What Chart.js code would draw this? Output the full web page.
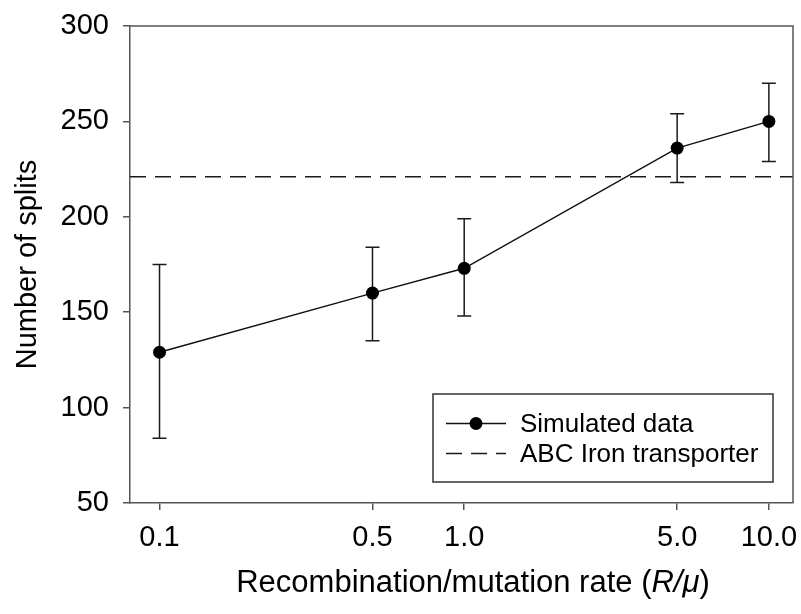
<!DOCTYPE html>
<html>
<head>
<meta charset="utf-8">
<script src="https://cdn.jsdelivr.net/npm/chart.js@4/dist/chart.umd.min.js"></script>
<style>
  html, body { margin: 0; padding: 0; background: #fff; }
  #wrap { width: 801px; height: 614px; }
</style>
</head>
<body>
<div id="wrap"><canvas id="c" width="801" height="614"></canvas></div>
<script>
// Number of splits versus recombination/mutation rate
const rates = [0.1, 0.5, 1.0, 5.0, 10.0];
const splitsMean = [129, 160, 173, 236, 250];
const splitsLow = [84, 135, 148, 218, 229];
const splitsHigh = [175, 184, 199, 254, 270];
const referenceSplits = 221;
const seriesNames = ['Simulated data', 'ABC Iron transporter'];
const rateTicks = [0.1, 0.5, 1.0, 5.0, 10.0];
const rateTickLabels = ['0.1', '0.5', '1.0', '5.0', '10.0'];
const rateRange = [0.08, 12];
const splitRange = [50, 300];
const splitStep = 50;
const yTitle = 'Number of splits';
const xTitleParts = [['Recombination/mutation rate (', false], ['R/\u03bc', true], [')', false]];

const FONT = '"Liberation Sans", Arial, Helvetica, sans-serif';
const AXIS = '#555555';
const INK = '#111111';

// vertical error bars with caps, drawn under the markers
const errorBars = {
  id: 'errorBars',
  beforeDatasetsDraw(chart) {
    const { ctx, scales: { x, y } } = chart;
    ctx.save();
    ctx.strokeStyle = '#1a1a1a';
    ctx.lineWidth = 1.5;
    rates.forEach((r, i) => {
      const px = x.getPixelForValue(r);
      const top = y.getPixelForValue(splitsHigh[i]);
      const bot = y.getPixelForValue(splitsLow[i]);
      ctx.beginPath();
      ctx.moveTo(px, top); ctx.lineTo(px, bot);
      ctx.moveTo(px - 7, top); ctx.lineTo(px + 7, top);
      ctx.moveTo(px - 7, bot); ctx.lineTo(px + 7, bot);
      ctx.stroke();
    });
    ctx.restore();
  }
};

// closes the plot frame on the top and right sides
const frame = {
  id: 'frame',
  afterDatasetsDraw(chart) {
    const { ctx, chartArea: a } = chart;
    ctx.save();
    ctx.strokeStyle = AXIS;
    ctx.lineWidth = 1.5;
    ctx.beginPath();
    ctx.moveTo(a.left, a.top); ctx.lineTo(a.right, a.top); ctx.lineTo(a.right, a.bottom);
    ctx.stroke();
    ctx.restore();
  }
};

// boxed legend in the lower right of the plot
const legendBox = {
  id: 'legendBox',
  afterDraw(chart) {
    const { ctx, chartArea: a } = chart;
    const w = 340, h = 88;
    const bx = a.right - 20 - w, by = a.bottom - 21 - h;
    const ds = chart.data.datasets;
    ctx.save();
    ctx.fillStyle = '#fff';
    ctx.fillRect(bx, by, w, h);
    ctx.strokeStyle = '#333';
    ctx.lineWidth = 1.5;
    ctx.strokeRect(bx, by, w, h);
    const rows = [by + 29.5, by + 59.5];
    ds.forEach((d, i) => {
      const yy = rows[i];
      ctx.strokeStyle = d.borderColor;
      ctx.lineWidth = d.borderWidth;
      ctx.setLineDash(d.borderDash || []);
      ctx.beginPath();
      ctx.moveTo(bx + 13, yy); ctx.lineTo(bx + 73, yy);
      ctx.stroke();
      ctx.setLineDash([]);
      if (d.pointRadius > 0) {
        ctx.fillStyle = d.pointBackgroundColor;
        ctx.beginPath();
        ctx.arc(bx + 43, yy, d.pointRadius, 0, Math.PI * 2);
        ctx.fill();
      }
      ctx.fillStyle = '#000';
      ctx.font = '26px ' + FONT;
      ctx.textBaseline = 'middle';
      ctx.textAlign = 'left';
      ctx.fillText(seriesNames[i], bx + 87, yy + 1);
    });
    ctx.restore();
  }
};

// x axis title with the italic ratio symbol
const rateTitle = {
  id: 'rateTitle',
  afterDraw(chart) {
    const { ctx } = chart;
    const size = 31;
    ctx.save();
    ctx.fillStyle = '#000';
    ctx.textBaseline = 'alphabetic';
    ctx.textAlign = 'left';
    const fonts = xTitleParts.map(p => (p[1] ? 'italic ' : '') + size + 'px ' + FONT);
    let total = 0;
    const widths = xTitleParts.map((p, i) => { ctx.font = fonts[i]; const wd = ctx.measureText(p[0]).width; total += wd; return wd; });
    let cx = 473 - total / 2;
    xTitleParts.forEach((p, i) => {
      ctx.font = fonts[i];
      ctx.fillText(p[0], cx, 592);
      cx += widths[i];
    });
    ctx.restore();
  }
};

new Chart(document.getElementById('c'), {
  type: 'line',
  data: {
    datasets: [
      {
        label: seriesNames[0],
        data: rates.map((r, i) => ({ x: r, y: splitsMean[i] })),
        borderColor: INK,
        borderWidth: 1.5,
        pointRadius: 6.5,
        pointHoverRadius: 6.5,
        pointBackgroundColor: '#000',
        pointBorderColor: '#000',
        pointBorderWidth: 0,
        tension: 0,
        fill: false
      },
      {
        label: seriesNames[1],
        data: rateRange.map(r => ({ x: r, y: referenceSplits })),
        borderColor: '#1a1a1a',
        borderWidth: 1.5,
        borderDash: [16, 9],
        pointRadius: 0,
        fill: false
      }
    ]
  },
  options: {
    responsive: false,
    devicePixelRatio: 1,
    animation: false,
    events: [],
    layout: { padding: { top: 26, right: 8, left: 0, bottom: 0 } },
    plugins: { legend: { display: false }, tooltip: { enabled: false } },
    scales: {
      x: {
        type: 'logarithmic',
        min: rateRange[0],
        max: rateRange[1],
        afterBuildTicks(scale) { scale.ticks = rateTicks.map(v => ({ value: v })); },
        afterFit(scale) { scale.height = 111; scale.paddingLeft = 0; scale.paddingRight = 0; },
        ticks: {
          autoSkip: false,
          maxRotation: 0,
          padding: 11,
          color: '#000',
          font: { family: FONT, size: 29 },
          callback: (v, i) => rateTickLabels[i]
        },
        grid: { drawOnChartArea: false, drawTicks: true, tickLength: 7, color: AXIS, lineWidth: 1.5 },
        border: { display: true, color: AXIS, width: 1.5 },
        title: { display: false }
      },
      y: {
        type: 'linear',
        min: splitRange[0],
        max: splitRange[1],
        afterFit(scale) { scale.width = 130; scale.paddingTop = 0; scale.paddingBottom = 0; },
        ticks: {
          stepSize: splitStep,
          padding: 14,
          color: '#000',
          font: { family: FONT, size: 29 }
        },
        grid: { drawOnChartArea: false, drawTicks: true, tickLength: 7, color: AXIS, lineWidth: 1.5 },
        border: { display: true, color: AXIS, width: 1.5 },
        title: {
          display: true,
          text: yTitle,
          color: '#000',
          font: { family: FONT, size: 29 },
          padding: { top: 11, bottom: 0 }
        }
      }
    }
  },
  plugins: [errorBars, frame, legendBox, rateTitle]
});
</script>
</body>
</html>
